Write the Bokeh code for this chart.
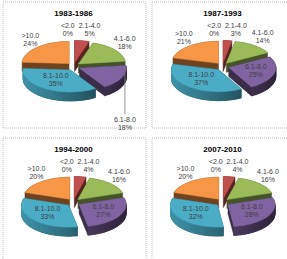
import numpy as np
from bokeh.plotting import figure
from bokeh.models import Range1d
from bokeh.core.properties import value
from bokeh.embed import file_html
from bokeh.resources import INLINE

# ---------------- data ----------------
categories = ["<2.0", "2.1-4.0", "4.1-6.0", "6.1-8.0", "8.1-10.0", ">10.0"]
periods = ["1983-1986", "1987-1993", "1994-2000", "2007-2010"]
shares_1983_1986 = [0, 5, 18, 18, 35, 24]
shares_1987_1993 = [0, 3, 14, 25, 37, 21]
shares_1994_2000 = [0, 4, 16, 27, 33, 20]
shares_2007_2010 = [0, 4, 16, 28, 32, 20]
all_shares = [shares_1983_1986, shares_1987_1993, shares_1994_2000, shares_2007_2010]

# ---------------- style ----------------
top_colors = ["#4F81BD", "#C0504D", "#9BBB59", "#8064A2", "#4BACC6", "#F79646"]
W, H = 287, 259
origins = [(0, 0), (149, 0), (0, 136), (149, 136)]
RX, RY, DEPTH = 47, 22, 9
EX, EY = 6.5, 4
FONT = value("Liberation Sans")


def shade(hexcol, k):
    r, g, b = int(hexcol[1:3], 16), int(hexcol[3:5], 16), int(hexcol[5:7], 16)
    return "#%02x%02x%02x" % tuple(max(0, min(255, int(c * k))) for c in (r, g, b))


def hull(points):
    pts = sorted(set(points))
    if len(pts) <= 2:
        return pts
    def cross(o, a, b):
        return (a[0] - o[0]) * (b[1] - o[1]) - (a[1] - o[1]) * (b[0] - o[0])
    lower, upper = [], []
    for q in pts:
        while len(lower) >= 2 and cross(lower[-2], lower[-1], q) <= 0:
            lower.pop()
        lower.append(q)
    for q in reversed(pts):
        while len(upper) >= 2 and cross(upper[-2], upper[-1], q) <= 0:
            upper.pop()
        upper.append(q)
    return lower[:-1] + upper[:-1]


p = figure(width=W, height=H, x_range=Range1d(0, W), y_range=Range1d(H, 0),
           output_backend="svg", toolbar_location=None, min_border=0,
           x_axis_location=None, y_axis_location=None)
p.grid.visible = False
p.outline_line_color = None
p.background_fill_color = "white"
p.border_fill_color = "white"

for (ox, oy), period, shares in zip(origins, periods, all_shares):
    # dotted panel frame
    x0 = ox + 2.5
    x1 = ox + 145.5 if ox == 0 else W + 5
    y0 = oy + 1.5
    y1 = oy + 127.5 if oy == 0 else H + 5
    p.line([x0, x1, x1, x0, x0], [y0, y0, y1, y1, y0], line_color="#BFBFBF",
           line_width=1, line_dash="1 1")

    cx, cy = ox + 73, oy + 66
    p.text([cx], [oy + 13], text=[period], text_align="center", text_baseline="middle",
           text_font=FONT, text_font_size="8px", text_font_style="bold", text_color="#000000")

    total = float(sum(shares))
    cum = np.cumsum([0] + list(shares)) / total * 2 * np.pi
    slices = []
    for i, v in enumerate(shares):
        a0, a1 = cum[i], cum[i + 1]
        mid = (a0 + a1) / 2
        slices.append((i, v, a0, a1, mid))

    # draw back to front
    for i, v, a0, a1, mid in sorted(slices, key=lambda s: -np.cos(s[4])):
        if v <= 0:
            continue
        col = top_colors[i]
        offx, offy = EX * np.sin(mid), -EY * np.cos(mid)
        n = max(2, int(np.degrees(a1 - a0) / 3) + 1)
        t = np.linspace(a0, a1, n)
        ax = cx + offx + RX * np.sin(t)
        ay = cy + offy - RY * np.cos(t)
        px = [cx + offx] + list(ax)
        py = [cy + offy] + list(ay)
        pts = [(x, y) for x, y in zip(px, py)] + [(x, y + DEPTH) for x, y in zip(px, py)]
        hp = hull(pts)
        dark = shade(col, 0.45)
        p.patch([q[0] for q in hp], [q[1] for q in hp], fill_color=dark, line_color=dark, line_width=0.5)
        # outer wall, shaded
        qx, qy, qc = [], [], []
        for j in range(n - 1):
            tm = (t[j] + t[j + 1]) / 2
            if np.cos(tm) < 0.05:
                k = 0.62 - 0.25 * np.sin(tm)
                c = shade(col, k)
                qx.append([ax[j], ax[j + 1], ax[j + 1], ax[j]])
                qy.append([ay[j], ay[j + 1], ay[j + 1] + DEPTH, ay[j] + DEPTH])
                qc.append(c)
        if qx:
            p.patches(qx, qy, fill_color=qc, line_color=qc, line_width=0.6)
        p.patch(px, py, fill_color=col, line_color=col, line_width=0.5)

    # labels
    labs = []
    for i, v, a0, a1, mid in slices:
        name, pct = categories[i], "%d%%" % v
        w = max(len(name), len(pct)) * 3.4
        s, c = np.sin(mid), np.cos(mid)
        offx, offy = EX * s, -EY * c
        if v >= 25:
            lx = cx + offx + 0.6 * RX * s
            ly = cy + offy - 0.5 * RY * c
            labs.append([lx, ly, name, pct, w, True])
        elif c < -0.2:
            # lower-half small slice: label below the pie with a leader line
            ex = cx + offx + RX * s
            ey = cy + offy - RY * c
            lx = ex + 3
            ly = cy + RY + DEPTH + 26
            p.line([lx, lx], [ey - 4, ly - 9], line_color="#7F7F7F", line_width=0.8)
            labs.append([lx, ly, name, pct, w, True])
        else:
            axp = cx + offx + 48 * s
            ayp = cy + offy - 27 * c
            lx = axp + s * w / 2
            ly = ayp - c * 6
            labs.append([lx, ly, name, pct, w, False])
    outs = sorted([l for l in labs if not l[5]], key=lambda l: l[0])
    for _ in range(3):
        for a, b in zip(outs[:-1], outs[1:]):
            need = (a[4] + b[4]) / 2 + 3
            if abs(a[1] - b[1]) < 14 and b[0] - a[0] < need:
                ov = need - (b[0] - a[0])
                a[0] -= ov / 2
                b[0] += ov / 2
    for lx, ly, name, pct, w, inside in labs:
        p.text([lx, lx], [ly - 4, ly + 4], text=[name, pct], text_align="center",
               text_baseline="middle", text_font=FONT, text_font_size="7px",
               text_color="#404040")

open("out.html", "w").write(file_html(p, INLINE))
